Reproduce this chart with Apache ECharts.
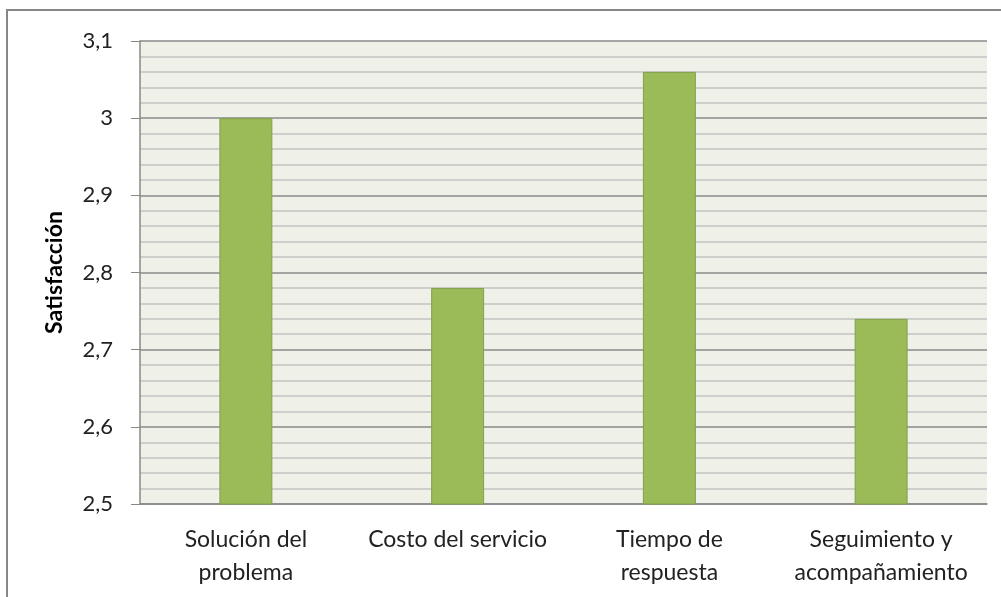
<!DOCTYPE html>
<html>
<head>
<meta charset="utf-8">
<script src="https://cdn.jsdelivr.net/npm/echarts@6/dist/echarts.min.js"></script>
<style>
  html, body { margin: 0; padding: 0; background: #fff; }
  #chart { width: 1001px; height: 597px; }
</style>
</head>
<body>
<div id="chart"></div>
<script>
const categories = ['Solución del\nproblema', 'Costo del servicio', 'Tiempo de\nrespuesta', 'Seguimiento y\nacompañamiento'];
const satisfaction = [3.0, 2.78, 3.06, 2.74];
const yRange = { min: 2.5, max: 3.1, step: 0.1 };

const chart = echarts.init(document.getElementById('chart'));

const option = {
  animation: false,
  textStyle: { fontFamily: 'Lato' },
  graphic: [
    {
      type: 'rect',
      shape: { x: 7, y: 10, width: 1100, height: 700 },
      style: { fill: 'none', stroke: '#878787', lineWidth: 2 },
      z: 100
    }
  ],
  grid: {
    left: 140,
    right: 14,
    top: 41,
    bottom: 93,
    show: true,
    backgroundColor: '#EFF1E9',
    borderWidth: 0
  },
  xAxis: {
    type: 'category',
    data: categories,
    axisLine: { lineStyle: { color: '#888', width: 1.5 } },
    axisTick: { show: false },
    axisLabel: {
      color: '#222',
      fontSize: 23,
      lineHeight: 33,
      margin: 19,
      interval: 0
    }
  },
  yAxis: {
    type: 'value',
    min: yRange.min,
    max: yRange.max,
    interval: yRange.step,
    name: 'Satisfacción',
    nameLocation: 'middle',
    nameRotate: 90,
    nameGap: 74,
    nameTextStyle: { fontSize: 23, fontWeight: 'bold', color: '#000' },
    axisLine: { show: true, lineStyle: { color: '#888', width: 1.5 } },
    axisTick: { show: true, length: 9, lineStyle: { color: '#888' } },
    axisLabel: {
      color: '#222',
      fontSize: 22,
      margin: 27,
      formatter: v => String(Math.round(v * 10) / 10).replace('.', ',')
    },
    splitLine: { lineStyle: { color: '#8A8A8A', width: 1.5 } },
    minorTick: { show: false, splitNumber: 5 },
    minorSplitLine: { show: true, lineStyle: { color: '#C4C4C4', width: 1.5 } }
  },
  series: [
    {
      type: 'bar',
      data: satisfaction,
      barWidth: '25%',
      itemStyle: {
        color: '#9BBB59',
        borderColor: '#809F4A',
        borderWidth: 1
      }
    }
  ]
};

chart.setOption(option);
</script>
</body>
</html>
